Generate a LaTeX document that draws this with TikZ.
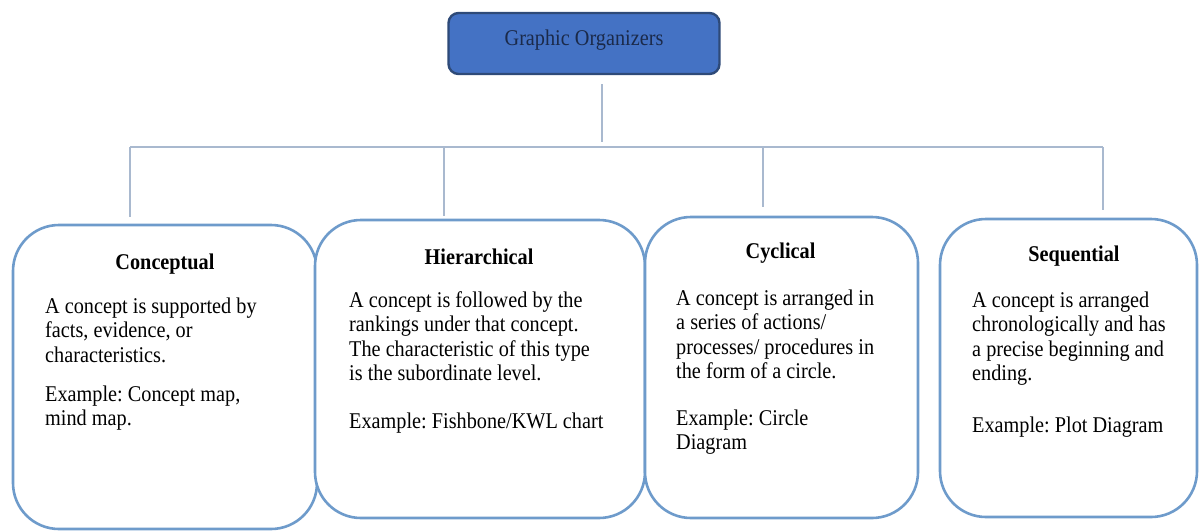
\documentclass[tikz,border=0pt]{standalone}
\usepackage{fontspec}
\setmainfont{LiberationSerif}[Extension=.ttf,UprightFont=*-Regular,BoldFont=*-Bold,ItalicFont=*-Italic,BoldItalicFont=*-BoldItalic,FakeStretch=0.9]
\frenchspacing
\definecolor{orgfill}{HTML}{4472C4}
\definecolor{orgline}{HTML}{2E4A78}
\definecolor{orgtext}{HTML}{1B2A4A}
\definecolor{cardline}{HTML}{6E9BCB}
\definecolor{linkline}{HTML}{A9B9CF}
\newcommand{\cardfont}{\fontsize{22.5}{24.5}\selectfont}
\newcommand{\firstline}{\rule{0pt}{18pt}}
\begin{document}
\begin{tikzpicture}[x=1pt,y=-1pt,
    card/.style={draw=cardline,line width=2.6pt,rounded corners=46pt,fill=white,inner sep=0pt},
    cardtitle/.style={anchor=base,inner sep=0pt,font=\cardfont\bfseries},
    cardtext/.style={anchor=north west,inner sep=0pt,align=left,font=\cardfont},
    link/.style={draw=linkline,line width=1.6pt}]
    \useasboundingbox (0,0) rectangle (1199,531);

    % Top box
    \node[draw=orgline,line width=2.4pt,fill=orgfill,rounded corners=10pt,
          minimum width=271pt,minimum height=61pt,inner sep=0pt] (org) at (584,43.5) {};
    \node[anchor=base,inner sep=0pt,font=\cardfont,text=orgtext] (orglabel) at (584,45) {Graphic Organizers};

    % Cards
    \node[card,minimum width=304pt,minimum height=304pt] (c1) at (165,377) {};
    \node[card,minimum width=330pt,minimum height=298pt] (c2) at (480,369) {};
    \node[card,minimum width=273pt,minimum height=301pt] (c3) at (781.5,367.5) {};
    \node[card,minimum width=257pt,minimum height=298pt] (c4) at (1068.5,368) {};

    % Card titles
    \node[cardtitle] (t1) at (165,269) {Conceptual};
    \node[cardtitle] (t2) at (479,264) {Hierarchical};
    \node[cardtitle] (t3) at (780.5,258) {Cyclical};
    \node[cardtitle] (t4) at (1074,261) {Sequential};

    % Card texts
    \node[cardtext] (b1) at (45,295) {\firstline A concept is supported by\\
        facts, evidence, or\\ characteristics.\\[14.5pt]
        Example: Concept map,\\ mind map.};
    \node[cardtext] (b2) at (349,289) {\firstline A concept is followed by the\\
        rankings under that concept.\\ The characteristic of this type\\
        is the subordinate level.\\[23.5pt] Example: Fishbone/KWL chart};
    \node[cardtext] (b3) at (676,287) {\firstline A concept is arranged in\\
        a series of actions/\\ processes/ procedures in\\
        the form of a circle.\\[22pt] Example: Circle\\ Diagram};
    \node[cardtext] (b4) at (972,289) {\firstline A concept is arranged\\
        chronologically and has\\ a precise beginning and\\
        ending.\\[27.5pt] Example: Plot Diagram};

    % Connectors
    \coordinate (bar) at (602,147);
    \coordinate (d1) at (130,147);
    \coordinate (d2) at (444,147);
    \coordinate (d3) at (763,147);
    \coordinate (d4) at (1103,147);
    \draw[link,shorten <=9pt,shorten >=5pt] (org.south -| bar) -- (bar);
    \draw[link] (d1) -- (d4);
    \foreach \i/\gap in {1/7,2/3,3/9,4/8}
        \draw[link,shorten >=\gap pt] (d\i) -- (d\i |- c\i.north);
\end{tikzpicture}
\end{document}
